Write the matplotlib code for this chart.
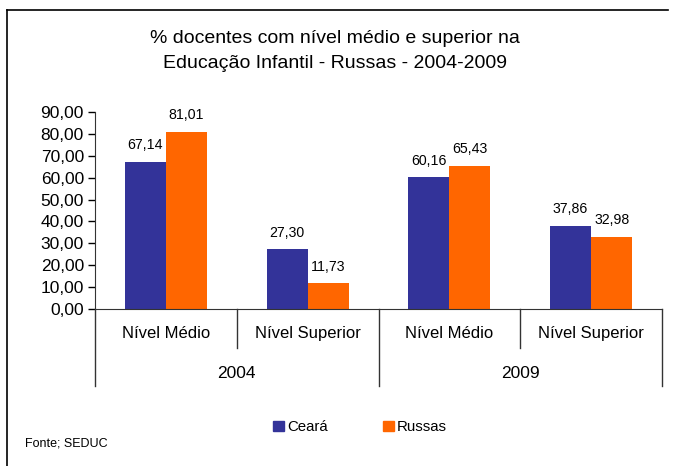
import numpy as np
import matplotlib
matplotlib.use('Agg')
import matplotlib.pyplot as plt
import matplotlib.patches as mpatches
import matplotlib.transforms as mtransforms
from matplotlib.lines import Line2D

plt.rcParams['font.family'] = ['Liberation Sans', 'DejaVu Sans']

title = '% docentes com nível médio e superior na\nEducação Infantil - Russas - 2004-2009'
categories = ['Nível Médio', 'Nível Superior', 'Nível Médio', 'Nível Superior']
years = ['2004', '2009']
ceara = [67.14, 27.30, 60.16, 37.86]
russas = [81.01, 11.73, 65.43, 32.98]
yticks = [0, 10, 20, 30, 40, 50, 60, 70, 80, 90]
source = 'Fonte; SEDUC'

blue = '#333399'
orange = '#FF6600'


def fmt(v):
    return ('%.2f' % v).replace('.', ',')


fig = plt.figure(figsize=(6.77, 4.66), dpi=100)
ax = fig.add_axes([95 / 677, 1 - 309 / 466, (662 - 95) / 677, (309 - 112) / 466])

x = np.arange(len(categories))
w = 0.29
b1 = ax.bar(x - w / 2, ceara, w, color=blue, label='Ceará')
b2 = ax.bar(x + w / 2, russas, w, color=orange, label='Russas')

for bars, vals in ((b1, ceara), (b2, russas)):
    for r, v in zip(bars, vals):
        ax.annotate(fmt(v), (r.get_x() + r.get_width() / 2, v),
                    xytext=(0, 12), textcoords='offset points',
                    ha='center', va='center', fontsize=10.2)

ax.set_xlim(-0.5, len(categories) - 0.5)
ax.set_ylim(0, 90)
ax.set_yticks(yticks)
ax.set_yticklabels([fmt(t) for t in yticks], fontsize=12.5)
ax.tick_params(axis='y', length=5, width=1, pad=3)
ax.set_xticks([])
for s in ['top', 'right']:
    ax.spines[s].set_visible(False)
ax.spines['left'].set_color('#333333')
ax.spines['bottom'].set_color('#333333')

# multi-level category axis
tr = mtransforms.blended_transform_factory(ax.transData, ax.transAxes)
for i, c in enumerate(categories):
    ax.text(i, -0.122, c, transform=tr, ha='center', va='center', fontsize=12)
for k, yr in enumerate(years):
    ax.text(2 * k + 0.5, -0.325, yr, transform=tr, ha='center', va='center', fontsize=12.5)
for xb in [0.5, 2.5]:
    ax.add_line(Line2D([xb, xb], [0, -0.198], transform=tr, color='#333333', lw=1, clip_on=False))
for xb in [-0.5, 1.5, 3.5]:
    ax.add_line(Line2D([xb, xb], [0, -0.391], transform=tr, color='#333333', lw=1, clip_on=False))

fig.text(335 / 677, 1 - 51 / 466, title, ha='center', va='center', fontsize=14, linespacing=1.68)

handles = [mpatches.Patch(color=blue), mpatches.Patch(color=orange)]
fig.legend(handles, ['Ceará', 'Russas'], loc='center', bbox_to_anchor=(360 / 677, 1 - 427 / 466),
           ncol=2, frameon=False, fontsize=10.8, handlelength=0.7, handleheight=0.7,
           handletextpad=0.2, columnspacing=3.7)

fig.text(25 / 677, 1 - 443 / 466, source, ha='left', va='center', fontsize=9)

# partial frame around the picture
fig.add_artist(Line2D([7 / 677, 668 / 677], [1 - 10 / 466, 1 - 10 / 466], transform=fig.transFigure, color='black', lw=1.2))
fig.add_artist(Line2D([7 / 677, 7 / 677], [0, 1 - 10 / 466], transform=fig.transFigure, color='black', lw=1.2))

fig.savefig('out.png', dpi=100)
